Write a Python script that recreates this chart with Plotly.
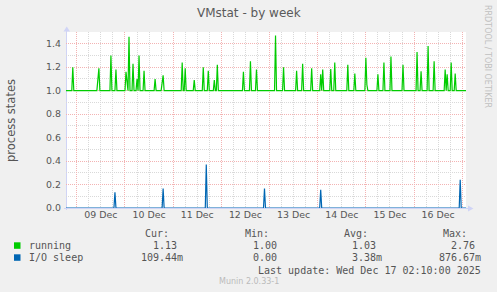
import plotly.graph_objects as go
from datetime import datetime, timedelta

# ---------------- data ----------------
TITLE = "VMstat - by week"
Y_TITLE = "process states"
X_START = "2025-12-08 18:37"
X_END = "2025-12-17 01:53"
Y_MIN, Y_MAX = 0.0, 1.5
STEP_MIN = 30  # sample resolution (minutes)

running_base = 1.0
running_times = [
    "2025-12-08 22:00", "2025-12-09 10:30", "2025-12-09 11:00", "2025-12-09 17:00",
    "2025-12-09 19:30", "2025-12-10 00:30", "2025-12-10 01:00", "2025-12-10 02:00",
    "2025-12-10 04:00", "2025-12-10 06:00", "2025-12-10 07:00", "2025-12-10 09:30",
    "2025-12-10 15:00", "2025-12-10 18:30", "2025-12-10 19:00", "2025-12-11 04:30",
    "2025-12-11 06:00", "2025-12-11 10:30", "2025-12-11 15:00", "2025-12-11 17:30",
    "2025-12-11 20:30", "2025-12-11 22:00", "2025-12-12 11:00", "2025-12-12 14:30",
    "2025-12-12 17:30", "2025-12-13 03:00", "2025-12-13 07:00", "2025-12-13 13:30",
    "2025-12-13 16:30", "2025-12-13 21:00", "2025-12-14 01:30", "2025-12-14 02:30",
    "2025-12-14 06:30", "2025-12-14 08:30", "2025-12-14 15:00", "2025-12-14 18:30",
    "2025-12-15 00:00", "2025-12-15 00:30", "2025-12-15 06:00", "2025-12-15 09:00",
    "2025-12-15 12:30", "2025-12-15 18:30", "2025-12-16 01:30", "2025-12-16 03:30",
    "2025-12-16 07:00", "2025-12-16 10:00", "2025-12-16 15:30", "2025-12-16 16:30",
    "2025-12-16 18:30", "2025-12-16 20:30",
]
running_values = [
    1.20, 1.09, 1.19, 1.30,
    1.18, 1.16, 1.10, 1.46,
    1.23, 1.10, 1.30, 1.17,
    1.10, 1.06, 1.13, 1.24,
    1.19, 1.09, 1.20, 1.17,
    1.09, 1.22, 1.16, 1.25,
    1.18, 1.47, 1.20, 1.17,
    1.23, 1.19, 1.14, 1.18,
    1.185, 1.24, 1.22, 1.145,
    1.28, 1.05, 1.14, 1.24,
    1.29, 1.22, 1.33, 1.165,
    1.38, 1.25, 1.18, 1.14,
    1.24, 1.145,
]

io_base = 0.0
io_times = [
    "2025-12-09 19:00", "2025-12-10 19:00", "2025-12-11 16:30",
    "2025-12-12 21:30", "2025-12-14 01:30", "2025-12-16 23:00",
]
io_values = [0.133, 0.165, 0.37, 0.165, 0.156, 0.241]

legend_names = ["running", "I/O sleep"]
legend_colors = ["#00CC00", "#0066B3"]
legend_headers = ["Cur:", "Min:", "Avg:", "Max:"]
cur_vals = ["1.13", "109.44m"]
min_vals = ["1.00", "0.00"]
avg_vals = ["1.03", "3.38m"]
max_vals = ["2.76", "876.67m"]
LAST_UPDATE = "Last update: Wed Dec 17 02:10:00 2025"
FOOTER = "Munin 2.0.33-1"
WATERMARK = "RRDTOOL / TOBI OETIKER"

# ---------------- helpers ----------------
FMT = "%Y-%m-%d %H:%M"


def build_series(base, times, values):
    step = timedelta(minutes=STEP_MIN)
    pts = {}
    spikes = {datetime.strptime(t, FMT): v for t, v in zip(times, values)}
    pts[datetime.strptime(X_START, FMT)] = base
    pts[datetime.strptime(X_END, FMT)] = base
    for t in spikes:
        for nb in (t - step, t + step):
            if nb not in spikes:
                pts[nb] = base
    pts.update(spikes)
    ks = sorted(pts)
    return ks, [pts[k] for k in ks]


W, H = 497, 292
L, R, T, B = 66, 31, 32, 84
PW, PH = W - L - R, H - T - B


def px(x):
    return (x - L) / PW


def py(y):
    return (H - B - y) / PH


rx, ry = build_series(running_base, running_times, running_values)
ix, iy = build_series(io_base, io_times, io_values)

fig = go.Figure()
fig.add_trace(go.Scatter(x=rx, y=ry, mode="lines",
                         line=dict(color=legend_colors[0], width=1.2),
                         showlegend=False, hoverinfo="skip"))
fig.add_trace(go.Scatter(x=ix, y=iy, mode="lines",
                         line=dict(color=legend_colors[1], width=1.2),
                         showlegend=False, hoverinfo="skip"))

GRID_MAJOR = "#F3B3B3"
GRID_MINOR = "#D9D9D9"
AXIS_COL = "#D0D4F6"
TEXT = "#555555"

fig.update_layout(
    width=W, height=H,
    margin=dict(l=L, r=R, t=T, b=B, pad=0),
    paper_bgcolor="#F0F0F0",
    plot_bgcolor="#FFFFFF",
    font=dict(family="DejaVu Sans", color=TEXT, size=9.4),
    xaxis=dict(
        type="date",
        range=[X_START, X_END],
        dtick=86400000,
        tick0="2025-12-09 00:00",
        tickformat="%d %b",
        ticklabelmode="period",
        showgrid=True, gridcolor=GRID_MAJOR, griddash="1px,1px", gridwidth=1,
        minor=dict(dtick=6 * 3600 * 1000, tick0="2025-12-09 00:00",
                   showgrid=True, gridcolor=GRID_MINOR, griddash="1px,1px", gridwidth=1),
        showline=False, zeroline=False, ticks="",
        tickfont=dict(size=9.4, color=TEXT),
        fixedrange=True,
    ),
    yaxis=dict(
        range=[Y_MIN, Y_MAX],
        dtick=0.2, tick0=0, tickformat=".1f",
        showgrid=True, gridcolor=GRID_MAJOR, griddash="1px,1px", gridwidth=1,
        minor=dict(dtick=0.1, tick0=0, showgrid=True, gridcolor=GRID_MINOR,
                   griddash="1px,1px", gridwidth=1),
        showline=False, zeroline=False, ticks="",
        ticklabelstandoff=4,
        tickfont=dict(size=9.4, color=TEXT),
        fixedrange=True,
    ),
)

shapes = []
# axes lines + arrows
shapes.append(dict(type="line", xref="paper", yref="paper",
                   x0=px(66.5), x1=px(66.5), y0=py(210), y1=py(30),
                   line=dict(color=AXIS_COL, width=1), layer="below"))
shapes.append(dict(type="line", xref="paper", yref="paper",
                   x0=px(64), x1=px(469), y0=py(208.5), y1=py(208.5),
                   line=dict(color=AXIS_COL, width=1), layer="below"))
shapes.append(dict(type="path", xref="paper", yref="paper",
                   path=f"M {px(63.5)},{py(31.5)} L {px(70)},{py(31.5)} L {px(66.75)},{py(26.5)} Z",
                   fillcolor=AXIS_COL, line=dict(width=0)))
shapes.append(dict(type="path", xref="paper", yref="paper",
                   path=f"M {px(468)},{py(205.5)} L {px(468)},{py(211.5)} L {px(473.5)},{py(208.5)} Z",
                   fillcolor=AXIS_COL, line=dict(width=0)))

annotations = []
annotations.append(dict(text=TITLE, xref="paper", yref="paper", x=px(248.5), y=py(13),
                        xanchor="center", yanchor="middle", showarrow=False,
                        font=dict(family="DejaVu Sans", size=12, color="#5a5a5a")))
annotations.append(dict(text=Y_TITLE, xref="paper", yref="paper", x=px(11), y=py(120),
                        xanchor="center", yanchor="middle", showarrow=False, textangle=-90,
                        font=dict(family="DejaVu Sans", size=11.5, color=TEXT)))
annotations.append(dict(text=WATERMARK, xref="paper", yref="paper", x=px(487.5), y=py(56.5),
                        xanchor="center", yanchor="middle", showarrow=False, textangle=90,
                        font=dict(family="DejaVu Sans", size=8, color="#C0C0C0")))

MONO = dict(family="DejaVu Sans Mono", size=10, color=TEXT)
CHAR_W = 6.02
col_right = [185, 285, 384, 483.3]
HEADER_Y = 233.3
ROW_Y = [245.7, 257.7]

for hdr, cr in zip(legend_headers, col_right):
    annotations.append(dict(text=hdr, xref="paper", yref="paper", x=px(cr - 14), y=py(HEADER_Y),
                            xanchor="right", yanchor="middle", showarrow=False, font=MONO))

cols = [cur_vals, min_vals, avg_vals, max_vals]
for i, name in enumerate(legend_names):
    yy = ROW_Y[i]
    shapes.append(dict(type="rect", xref="paper", yref="paper",
                       x0=px(14), x1=px(20.5), y0=py(yy - 3.4), y1=py(yy + 3.1),
                       fillcolor=legend_colors[i], line=dict(width=0)))
    annotations.append(dict(text=name, xref="paper", yref="paper", x=px(26.8), y=py(yy),
                            xanchor="left", yanchor="middle", showarrow=False, font=MONO))
    for col, cr in zip(cols, col_right):
        v = col[i]
        right = cr if v[-1].isalpha() else cr - CHAR_W
        annotations.append(dict(text=v, xref="paper", yref="paper", x=px(right), y=py(yy),
                                xanchor="right", yanchor="middle", showarrow=False, font=MONO))

annotations.append(dict(text=LAST_UPDATE, xref="paper", yref="paper", x=px(483.3), y=py(270),
                        xanchor="right", yanchor="middle", showarrow=False, font=MONO))
annotations.append(dict(text=FOOTER, xref="paper", yref="paper", x=px(248.7), y=py(281),
                        xanchor="center", yanchor="middle", showarrow=False,
                        font=dict(family="DejaVu Sans", size=8, color="#BBBBBB")))

fig.update_layout(shapes=shapes, annotations=annotations)
fig.write_html("out.html", config=dict(displayModeBar=False, staticPlot=True))
